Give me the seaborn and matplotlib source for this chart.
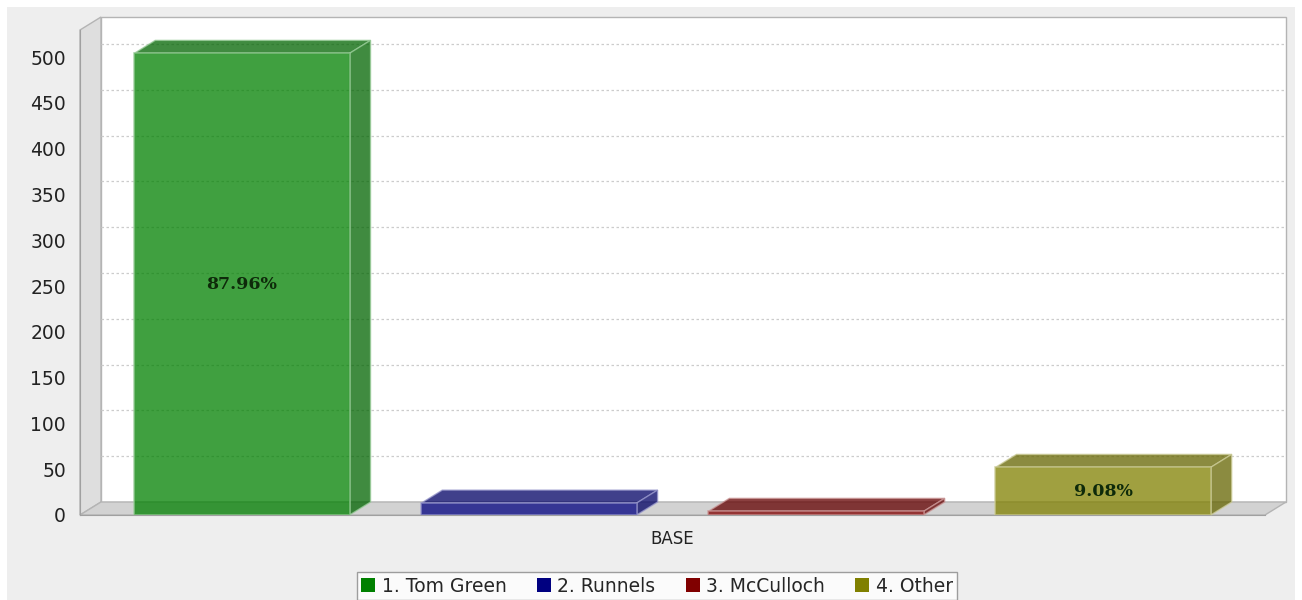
import matplotlib
matplotlib.use("Agg")
import matplotlib.pyplot as plt
from matplotlib.patches import Polygon, Rectangle, Patch
from matplotlib.colors import to_rgb
import pandas as pd
import seaborn as sns

# data
categories = ["BASE"]
series = ["1. Tom Green", "2. Runnels", "3. McCulloch", "4. Other"]
counts = [504, 13, 4, 52]
pct_labels = ["87.96%", "", "", "9.08%"]
colors = ["#008000", "#000080", "#800000", "#808000"]
y_ticks = list(range(0, 501, 50))

df = pd.DataFrame({
    "category": categories * len(series),
    "series": series,
    "count": counts,
})

sns.set_style("white")
plt.rcParams["font.family"] = ["DejaVu Sans"]

W, H = 1302, 600
fig = plt.figure(figsize=(W / 100, H / 100), dpi=100)
fig.patch.set_facecolor("white")
fig.patches.append(Rectangle((7 / W, 0), 1288 / W, 593 / H, transform=fig.transFigure,
                             facecolor="#eeeeee", edgecolor="none", zorder=-10))

# front plane of the 3D box
ax_w, ax_h = 1185, 485
ax = fig.add_axes([80 / W, 85 / H, ax_w / W, ax_h / H])
ax.patch.set_visible(False)

sns.barplot(data=df, x="category", y="count", hue="series", palette=colors,
            saturation=1, alpha=0.75, width=0.969, gap=0.25, legend=False, ax=ax,
            zorder=3, edgecolor="none")

ax.set_xlim(-0.5, 0.5)
ax.set_ylim(0, 529.5)

# depth offset (pixels) -> axes / data units
dx_ax, dy_ax = 21 / ax_w, 13 / ax_h
dx = dx_ax * (ax.get_xlim()[1] - ax.get_xlim()[0])
dy = dy_ax * (ax.get_ylim()[1] - ax.get_ylim()[0])

# walls and floor
ax.add_patch(Rectangle((dx_ax, dy_ax), 1, 1, transform=ax.transAxes, facecolor="white",
                       edgecolor="#b4b4b4", lw=1, clip_on=False, zorder=0))
ax.add_patch(Polygon([(0, 0), (dx_ax, dy_ax), (dx_ax, 1 + dy_ax), (0, 1)], closed=True,
                     transform=ax.transAxes, facecolor="#dedede", edgecolor="#b4b4b4",
                     lw=1, clip_on=False, zorder=0.5))
ax.add_patch(Polygon([(0, 0), (1, 0), (1 + dx_ax, dy_ax), (dx_ax, dy_ax)], closed=True,
                     transform=ax.transAxes, facecolor="#d2d2d2", edgecolor="#b4b4b4",
                     lw=1, clip_on=False, zorder=1))

# gridlines on the back wall
for v in y_ticks[1:]:
    ax.plot([dx_ax, 1 + dx_ax], [v + dy, v + dy], transform=ax.get_yaxis_transform(),
            color="#cccccc", lw=0.9, ls=(0, (2, 2)), clip_on=False, zorder=0.8)


def shade(c, f):
    r, g, b = to_rgb(c)
    return (r * f, g * f, b * f)


bars = sorted([p for p in ax.patches if p.get_zorder() == 3], key=lambda p: p.get_x())
for bar, c, lab in zip(bars, colors, pct_labels):
    x0, w, h = bar.get_x(), bar.get_width(), bar.get_height()
    x1 = x0 + w
    light = tuple(0.6 + 0.4 * v for v in to_rgb(c))
    bar.set_edgecolor(light)
    bar.set_linewidth(1.2)
    ax.add_patch(Polygon([(x0, h), (x1, h), (x1 + dx, h + dy), (x0 + dx, h + dy)], closed=True,
                         facecolor=shade(c, 0.78), alpha=0.75, edgecolor=light, lw=1,
                         clip_on=False, zorder=2.9))
    ax.add_patch(Polygon([(x1, 0), (x1 + dx, dy), (x1 + dx, h + dy), (x1, h)], closed=True,
                         facecolor=shade(c, 0.78), alpha=0.75, edgecolor=light, lw=1,
                         clip_on=False, zorder=2.9))
    if lab:
        ax.text(x0 + w / 2, h / 2, lab, ha="center", va="center", family="DejaVu Serif",
                fontweight="bold", fontsize=12.5, color="#0e2a0a", zorder=5)

ax.set_yticks(y_ticks)
ax.set_xlabel("")
ax.set_ylabel("")
for s in ["top", "right"]:
    ax.spines[s].set_visible(False)
for s in ["left", "bottom"]:
    ax.spines[s].set_color("#a0a0a0")
    ax.spines[s].set_zorder(1.5)
ax.tick_params(axis="y", length=5, color="#909090", labelsize=13.5, pad=5, labelcolor="#222222")
ax.tick_params(axis="x", length=0, labelsize=12, pad=11, labelcolor="#222222")

handles = [Patch(facecolor=c, edgecolor="none") for c in colors]
leg = fig.legend(handles, series, loc="center", bbox_to_anchor=(657 / W, 14 / H), ncol=4,
                 frameon=True, fancybox=False, edgecolor="#888888", fontsize=13.5,
                 handlelength=0.75, handleheight=0.75, handletextpad=0.35,
                 columnspacing=1.6, borderpad=0.25)
leg.get_frame().set_linewidth(1)

fig.savefig("out.png", dpi=100, facecolor=fig.get_facecolor())
